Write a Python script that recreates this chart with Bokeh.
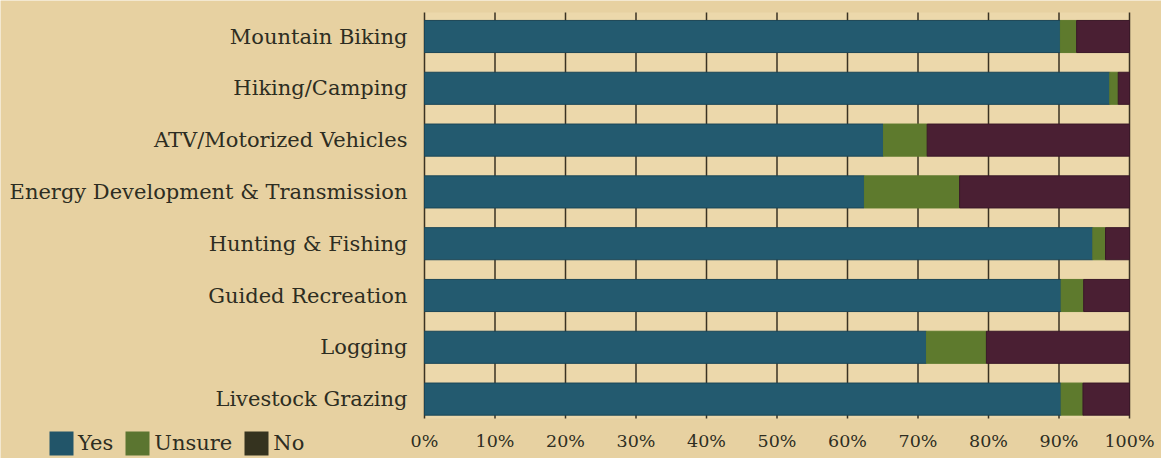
from bokeh.plotting import figure
from bokeh.models import ColumnDataSource, Range1d, Legend, LegendItem
from bokeh.core.properties import value
from bokeh.embed import file_html
from bokeh.resources import INLINE

categories = ["Mountain Biking", "Hiking/Camping", "ATV/Motorized Vehicles",
              "Energy Development & Transmission", "Hunting & Fishing",
              "Guided Recreation", "Logging", "Livestock Grazing"]
yes = [90.2, 97.2, 65.1, 62.4, 94.8, 90.3, 71.2, 90.3]
unsure = [2.3, 1.2, 6.2, 13.5, 1.8, 3.2, 8.5, 3.1]
no = [7.5, 1.6, 28.7, 24.1, 3.4, 6.5, 20.3, 6.6]
x_ticks = [0, 10, 20, 30, 40, 50, 60, 70, 80, 90, 100]
x_tick_labels = ["0%", "10%", "20%", "30%", "40%", "50%", "60%", "70%", "80%", "90%", "100%"]
series_names = ["Yes", "Unsure", "No"]

FONT = "DejaVu Serif"
TEXT = "#2d2d22"
PAPER = "#e7d1a1"
PLOT_BG = "#ecd8ab"
C_YES, C_UNS, C_NO = "#235a6f", "#5e7a2d", "#4a1f33"
L_YES, L_UNS, L_NO = "#225569", "#5b7530", "#35331f"

# layout (pixels)
W, H = 1161, 458
X0_PX, PX_PER_PCT = 424, 7.05          # where 0% sits, px per percent
Y0_PX, PX_PER_ROW = 36, 51.8           # centre of first bar, row spacing
AREA_TOP_PX, AREA_BOT_PX = 12, 418     # plot area vertical extent

def ypx(px):
    return (px - Y0_PX) / PX_PER_ROW

area_top, area_bot = ypx(AREA_TOP_PX), ypx(AREA_BOT_PX)

ypos = list(range(len(categories)))
y_end = [a + b for a, b in zip(yes, unsure)]
total = [a + b + c for a, b, c in zip(yes, unsure, no)]
src = ColumnDataSource(dict(y=ypos, yes=yes, yu=y_end, total=total, cat=categories))

p = figure(width=W, height=H, output_backend="svg", toolbar_location=None,
           x_range=Range1d(-X0_PX / PX_PER_PCT, (W - X0_PX) / PX_PER_PCT),
           y_range=Range1d(ypx(H), ypx(0)),
           x_axis_location=None, y_axis_location=None, min_border=0,
           background_fill_color=PAPER, border_fill_color=PAPER, outline_line_color=None)
p.grid.visible = False

# lighter plot area
p.quad(left=[x_ticks[0]], right=[x_ticks[-1]], top=[area_top], bottom=[area_bot],
       fill_color=PLOT_BG, line_color=None)

# vertical grid lines
p.segment(x0=x_ticks, x1=x_ticks, y0=[area_top] * len(x_ticks), y1=[area_bot] * len(x_ticks),
          line_color="#3a3222", line_width=1.5)

# stacked bars
p.hbar(y="y", left=0, right="yes", height=0.62, source=src,
       fill_color=C_YES, line_color="#1b4657", line_width=1)
p.hbar(y="y", left="yes", right="yu", height=0.62, source=src,
       fill_color=C_UNS, line_color=C_UNS, line_width=1)
p.hbar(y="y", left="yu", right="total", height=0.62, source=src,
       fill_color=C_NO, line_color="#3a1828", line_width=1)

# category labels
p.text(x=0, y="y", text="cat", source=src, x_offset=-17, text_align="right",
       text_baseline="middle", text_font=value(FONT), text_font_size="21px",
       text_color=TEXT)

# x tick labels
p.text(x=x_ticks, y=[area_bot] * len(x_ticks), text=x_tick_labels, y_offset=22,
       text_align="center", text_baseline="middle", text_font=value(FONT),
       text_font_size="17.5px", text_color=TEXT)

# legend: zero-width bars at the series boundaries carry the legend swatch colours
legend_ends = ["yes", "yu", "total"]
items = []
for name, col, end in zip(series_names, [L_YES, L_UNS, L_NO], legend_ends):
    r = p.hbar(y="y", left=end, right=end, height=0.62, source=src,
               fill_color=col, line_color=None)
    items.append(LegendItem(label=name, renderers=[r]))
legend = Legend(items=items, orientation="horizontal", location=(46, 0),
                glyph_width=30, glyph_height=30, label_standoff=2, spacing=9,
                padding=0, margin=0, border_line_color=None, background_fill_alpha=0,
                label_text_font=FONT, label_text_font_size="21px", label_text_color=TEXT,
                label_height=30)
p.add_layout(legend, "center")

html = file_html(p, INLINE)
html = html.replace("<body>", '<body style="background:%s">' % PAPER, 1)
open("out.html", "w").write(html)
